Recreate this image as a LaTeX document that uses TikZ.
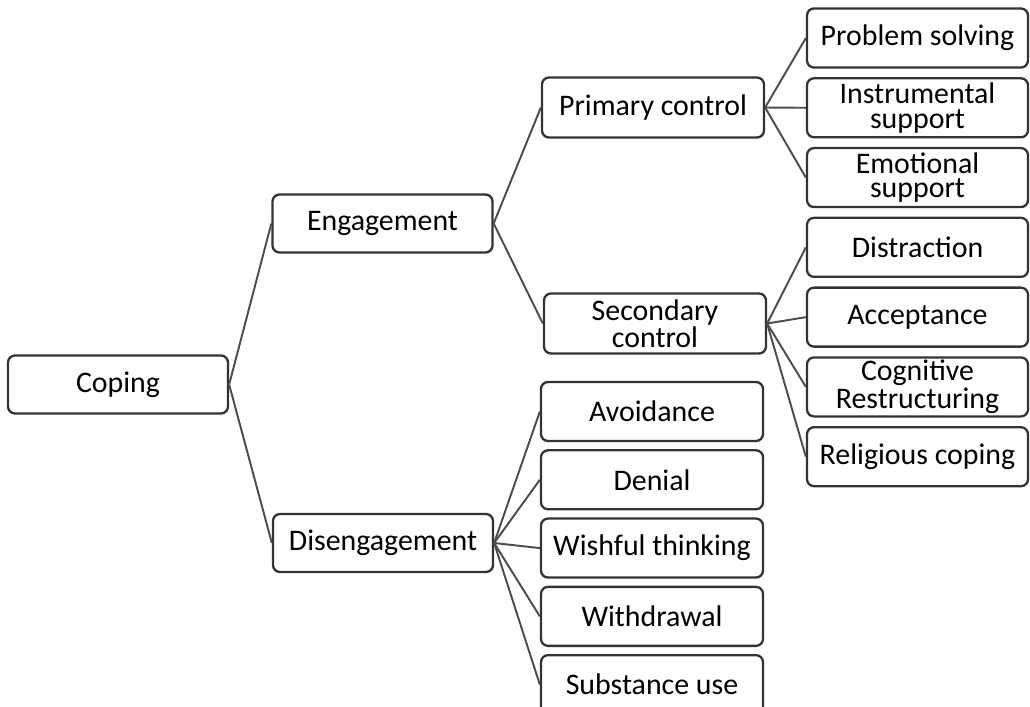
\documentclass[tikz,border=0pt]{standalone}
\usepackage{fontspec}
\setmainfont{Carlito}
\usepackage{tikz}
\usetikzlibrary{positioning}

\begin{document}
\begin{tikzpicture}[
box/.style={rectangle, rounded corners=4pt, draw=black!80, line width=1.3pt,
minimum height=1.16cm, inner sep=1pt, align=center,
font=\fontsize{17}{14}\selectfont},
root/.style={box, minimum width=4.4cm},
mid/.style={box, minimum width=4.4cm},
sub/.style={box, minimum width=4.44cm, minimum height=1.2cm},
leaf/.style={box, minimum width=4.42cm, minimum height=1.18cm},
link/.style={draw=black!70, line width=1.1pt}
]
\useasboundingbox (0,0) rectangle (20.6,-14.14);

\node[root] (cope) at (2.36,-7.69) {Coping};
\node[mid] (eng) at (7.65,-4.47) {Engagement};
\node[mid] (dis) at (7.66,-10.86) {Disengagement};

\node[sub] (prim) at (13.06,-2.15) {Primary control};
\node[sub] (sec) at (13.10,-6.47) {Secondary\\control};

% engagement: primary control
\node[leaf] (solve) at (18.35,-0.76) {Problem solving};
\node[leaf, below=0.17cm of solve] (instr) {Instrumental\\support};
\node[leaf, below=0.17cm of instr] (emot) {Emotional\\support};
% engagement: secondary control
\node[leaf, below=0.17cm of emot] (distr) {Distraction};
\node[leaf, below=0.17cm of distr] (accept) {Acceptance};
\node[leaf, below=0.17cm of accept] (cogn) {Cognitive\\Restructuring};
\node[leaf, below=0.17cm of cogn] (relig) {Religious coping};

% disengagement
\node[sub, minimum height=1.18cm] (avoid) at (13.04,-8.23) {Avoidance};
\node[sub, minimum height=1.18cm, below=0.14cm of avoid] (deny) {Denial};
\node[sub, minimum height=1.18cm, below=0.14cm of deny] (wish) {Wishful thinking};
\node[sub, minimum height=1.18cm, below=0.14cm of wish] (withd) {Withdrawal};
\node[sub, minimum height=1.18cm, below=0.14cm of withd] (subst) {Substance use};

\draw[link] (cope.east) -- (eng.west);
\draw[link] (cope.east) -- (dis.west);

\draw[link] (eng.east) -- (prim.west);
\draw[link] (eng.east) -- (sec.west);

\draw[link] (prim.east) -- (solve.west);
\draw[link] (prim.east) -- (instr.west);
\draw[link] (prim.east) -- (emot.west);

\draw[link] (sec.east) -- (distr.west);
\draw[link] (sec.east) -- (accept.west);
\draw[link] (sec.east) -- (cogn.west);
\draw[link] (sec.east) -- (relig.west);

\draw[link] (dis.east) -- (avoid.west);
\draw[link] (dis.east) -- (deny.west);
\draw[link] (dis.east) -- (wish.west);
\draw[link] (dis.east) -- (withd.west);
\draw[link] (dis.east) -- (subst.west);
\end{tikzpicture}
\end{document}
